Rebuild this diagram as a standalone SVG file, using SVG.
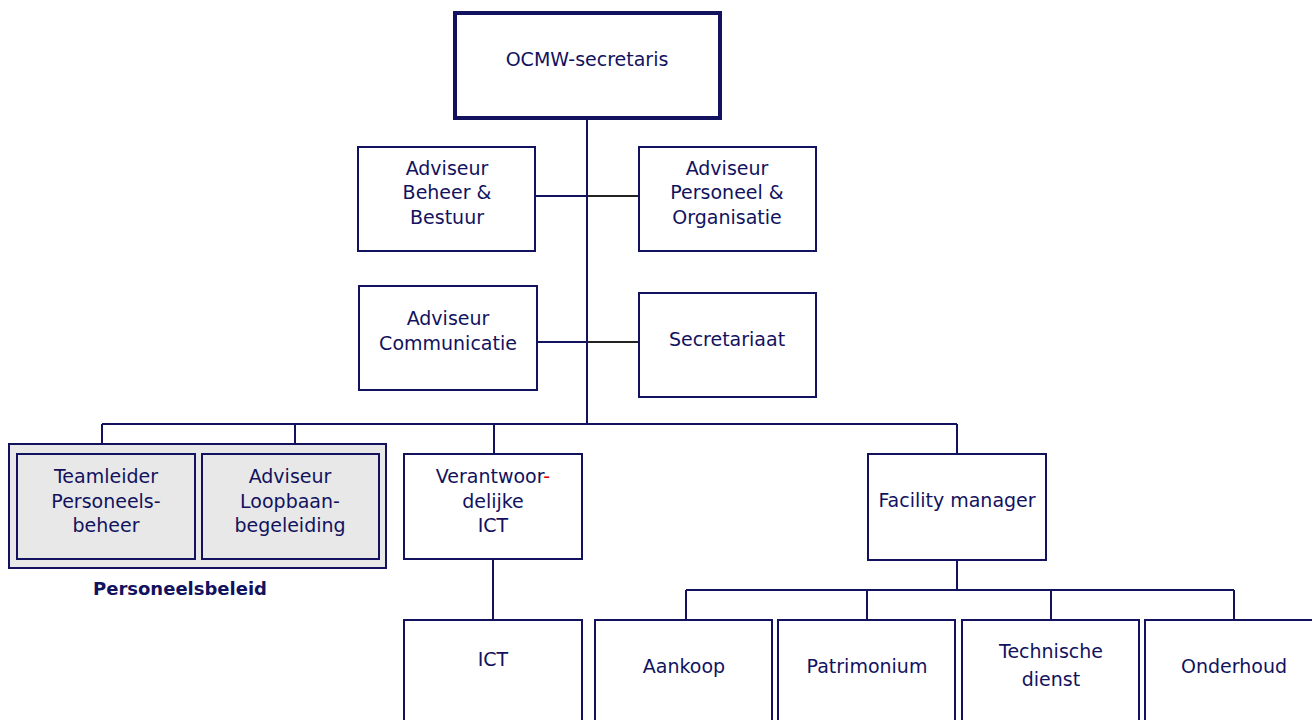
<svg xmlns="http://www.w3.org/2000/svg" width="1312" height="720" viewBox="0 0 1312 720">
<style>
.box{fill:#fff;stroke:#12125e;stroke-width:2}
.gbox{fill:#e8e8e8;stroke:#12125e;stroke-width:2}
.t{font-family:"DejaVu Sans",Verdana,sans-serif;font-size:19px;fill:#12125e;text-anchor:middle}
.b{font-weight:bold;font-size:18px}
.ln{stroke:#12125e;stroke-width:2;fill:none}
.lk{stroke:#222;stroke-width:2;fill:none}
</style>
<rect width="1312" height="720" fill="#fff"/>
<g id="connectors">
<path class="ln" d="M587,118V424M102,424H957M102,424V444M295,424V444M494,424V454M957,424V454"/>
<path class="ln" d="M535,196H587M537,342H587"/>
<path class="lk" d="M587,196H639M587,342H639"/>
<path class="ln" d="M493,559V620M957,560V590M686,590H1234M686,590V620M867,590V620M1051,590V620M1234,590V620"/>
</g>
<g id="n-ocmw"><rect x="455" y="13" width="265" height="105" style="fill:#fff;stroke:#12125e;stroke-width:4"/><text class="t" x="587" y="66">OCMW-secretaris</text></g>
<g id="n-beheer"><rect class="box" x="358" y="147" width="177" height="104"/><text class="t" x="447" y="175">Adviseur</text><text class="t" x="447" y="199">Beheer &amp;</text><text class="t" x="447" y="224">Bestuur</text></g>
<g id="n-personeel"><rect class="box" x="639" y="147" width="177" height="104"/><text class="t" x="727" y="175">Adviseur</text><text class="t" x="727" y="199">Personeel &amp;</text><text class="t" x="727" y="224">Organisatie</text></g>
<g id="n-communicatie"><rect class="box" x="359" y="286" width="178" height="104"/><text class="t" x="448" y="325">Adviseur</text><text class="t" x="448" y="350">Communicatie</text></g>
<g id="n-secretariaat"><rect class="box" x="639" y="293" width="177" height="104"/><text class="t" x="727" y="346">Secretariaat</text></g>
<g id="n-personeelsbeleid"><rect class="gbox" x="9" y="444" width="377" height="124"/><text class="t b" x="180" y="595">Personeelsbeleid</text></g>
<g id="n-teamleider"><rect class="gbox" x="17" y="454" width="178" height="105"/><text class="t" x="106" y="483">Teamleider</text><text class="t" x="106" y="508">Personeels-</text><text class="t" x="106" y="532">beheer</text></g>
<g id="n-loopbaan"><rect class="gbox" x="202" y="454" width="177" height="105"/><text class="t" x="290" y="483">Adviseur</text><text class="t" x="290" y="508">Loopbaan-</text><text class="t" x="290" y="532">begeleiding</text></g>
<g id="n-verantw"><rect class="box" x="404" y="454" width="178" height="105"/><text class="t" x="493" y="483">Verantwoor<tspan fill="#e00000">-</tspan></text><text class="t" x="493" y="508">delijke</text><text class="t" x="493" y="532">ICT</text></g>
<g id="n-facility"><rect class="box" x="868" y="454" width="178" height="106"/><text class="t" x="957" y="507">Facility manager</text></g>
<g id="n-ict"><rect class="box" x="404" y="620" width="178" height="110"/><text class="t" x="493" y="666">ICT</text></g>
<g id="n-aankoop"><rect class="box" x="595" y="620" width="177" height="110"/><text class="t" x="684" y="673">Aankoop</text></g>
<g id="n-patrimonium"><rect class="box" x="778" y="620" width="177" height="110"/><text class="t" x="867" y="673">Patrimonium</text></g>
<g id="n-technische"><rect class="box" x="962" y="620" width="177" height="110"/><text class="t" x="1051" y="658">Technische</text><text class="t" x="1051" y="686">dienst</text></g>
<g id="n-onderhoud"><rect class="box" x="1145" y="620" width="177" height="110"/><text class="t" x="1234" y="673">Onderhoud</text></g>
</svg>
